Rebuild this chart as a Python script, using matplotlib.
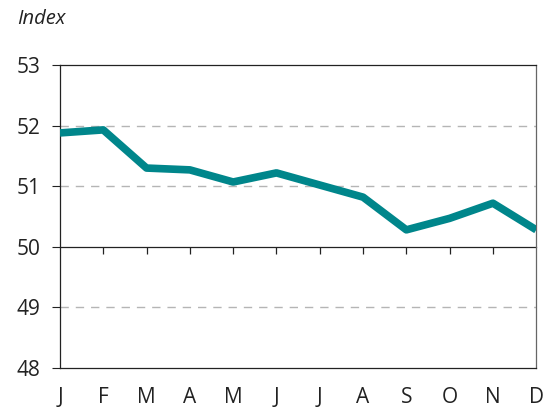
import matplotlib
matplotlib.use('Agg')
import matplotlib.pyplot as plt

months = ['J', 'F', 'M', 'A', 'M', 'J', 'J', 'A', 'S', 'O', 'N', 'D']
index_values = [51.88, 51.93, 51.30, 51.27, 51.07, 51.22, 51.02, 50.82, 50.28, 50.47, 50.72, 50.28]

plt.rcParams['font.family'] = ['Open Sans', 'DejaVu Sans']

fig = plt.figure(figsize = (5.5, 4.17), dpi = 100)
ax = fig.add_axes([0.109, 0.1175, 0.866, 0.7265])

x = list(range(len(months)))
ax.plot(x, index_values, color = '#00868b', linewidth = 5.5, solid_capstyle = 'butt', zorder = 3)

ax.set_xlim(0, 11)
ax.set_ylim(48, 53)
ax.set_yticks([48, 49, 50, 51, 52, 53])
ax.set_xticks(x)
ax.set_xticklabels(months)
ax.tick_params(axis = 'y', direction = 'out', length = 6, width = 0.8, pad = 8, labelsize = 15, colors = '#222222')
ax.tick_params(axis = 'x', length = 0, pad = 14, labelsize = 15, colors = '#222222')

for g in [49, 51, 52]:
    ax.axhline(g, color = '#b5b5b5', linewidth = 1, linestyle = (0, (6, 5)), zorder = 1)

for s in ['left', 'top', 'bottom']:
    ax.spines[s].set_color('#222222')
    ax.spines[s].set_linewidth(0.9)
ax.spines['right'].set_color('#666666')
ax.spines['right'].set_linewidth(0.9)

# line at 50 with small ticks hanging below
sec = ax.secondary_xaxis(0.4)
sec.set_xticks(x[1:-1])
sec.tick_params(direction = 'out', length = 5, width = 0.9, labelbottom = False, labeltop = False, colors = '#222222')
sec.spines['bottom'].set_linewidth(0.9)
sec.spines['bottom'].set_color('#222222')

fig.text(0.031, 0.955, 'Index', fontsize = 14.5, style = 'italic', color = '#222222', va = 'center', ha = 'left')

plt.savefig('out.png', dpi = 100)
